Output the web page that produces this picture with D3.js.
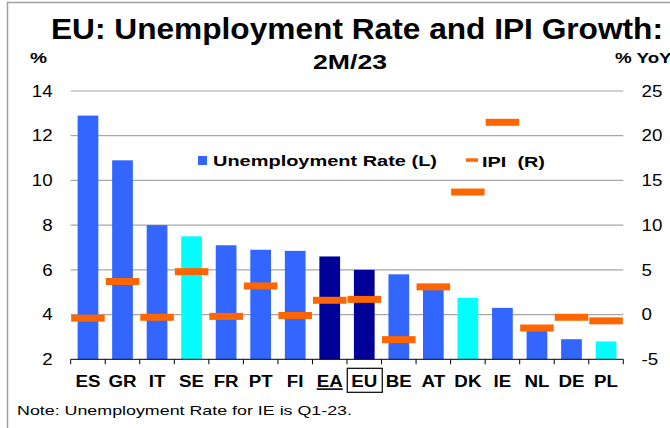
<!DOCTYPE html>
<html>
<head>
<meta charset="utf-8">
<script src="https://cdn.jsdelivr.net/npm/d3@7"></script>
<style>
  body { margin: 0; background: #fff; }
  svg { display: block; font-family: "Liberation Sans", Arial, sans-serif; }
</style>
</head>
<body>
<svg id="chart" width="670" height="428"></svg>
<script>
// --- data ---
const countries = ["ES", "GR", "IT", "SE", "FR", "PT", "FI", "EA", "EU", "BE", "AT", "DK", "IE", "NL", "DE", "PL"];
const unemployment = [12.9, 10.9, 8.0, 7.5, 7.1, 6.9, 6.85, 6.6, 6.0, 5.8, 5.1, 4.75, 4.3, 3.5, 2.9, 2.8];
const ipi = [-0.4, 3.7, -0.3, 4.8, -0.2, 3.2, -0.1, 1.6, 1.7, -2.8, 3.1, 13.7, 21.5, -1.5, -0.3, -0.7];
const barGroup = ["c", "c", "c", "n", "c", "c", "c", "a", "a", "c", "c", "n", "c", "c", "c", "n"];
const leftTicks = [2, 4, 6, 8, 10, 12, 14];
const rightTicks = [-5, 0, 5, 10, 15, 20, 25];

const colors = { c: "#3366ff", n: "#00ffff", a: "#000099" };
const orange = "#ff6600";

const svg = d3.select("#chart");
const plotL = 70.7, plotR = 623.3, plotT = 91, plotB = 359.3;

// the original text is drawn a bit wide, stretch it sideways
function widen(sel, factor) {
  sel.each(function () {
    const w = this.getComputedTextLength();
    d3.select(this)
      .attr("textLength", w * factor)
      .attr("lengthAdjust", "spacingAndGlyphs");
  });
  return sel;
}

// frame
svg.append("path")
  .attr("d", "M7.5,428 V2.5 H670")
  .attr("fill", "none")
  .attr("stroke", "#a0a0a0")
  .attr("stroke-width", 1.5);

// scales
const x = d3.scaleBand().domain(countries).range([plotL, plotR]).paddingInner(0.4).paddingOuter(0.2);
const xFull = d3.scaleBand().domain(countries).range([plotL, plotR]);
const yL = d3.scaleLinear().domain([2, 14]).range([plotB, plotT]);
const yR = d3.scaleLinear().domain([-5, 25]).range([plotB, plotT]);

// gridlines
svg.append("g")
  .selectAll("line")
  .data(leftTicks.slice(1))
  .enter()
  .append("line")
  .attr("x1", plotL)
  .attr("x2", plotR)
  .attr("y1", (d) => yL(d))
  .attr("y2", (d) => yL(d))
  .attr("stroke", "#a6a6a6")
  .attr("stroke-width", 1.2);

// bars
svg.append("g")
  .selectAll("rect")
  .data(countries)
  .enter()
  .append("rect")
  .attr("x", (d) => x(d))
  .attr("width", x.bandwidth())
  .attr("y", (d, i) => yL(unemployment[i]))
  .attr("height", (d, i) => plotB - yL(unemployment[i]))
  .attr("fill", (d, i) => colors[barGroup[i]]);

// IPI markers
svg.append("g")
  .selectAll("rect")
  .data(countries)
  .enter()
  .append("rect")
  .attr("x", (d) => xFull(d) + 0.5)
  .attr("width", xFull.bandwidth() - 1)
  .attr("y", (d, i) => yR(ipi[i]) - 3.5)
  .attr("height", 7)
  .attr("fill", orange);

// x axis
const xAxis = svg.append("g")
  .attr("transform", "translate(0," + plotB + ")");
xAxis.append("line")
  .attr("x1", plotL).attr("x2", plotR)
  .attr("stroke", "#000").attr("stroke-width", 1);
xAxis.selectAll("line.tick")
  .data(countries.concat(["_end"]))
  .enter()
  .append("line")
  .attr("class", "tick")
  .attr("x1", (d, i) => plotL + i * xFull.bandwidth())
  .attr("x2", (d, i) => plotL + i * xFull.bandwidth())
  .attr("y1", 0).attr("y2", 5)
  .attr("stroke", "#000");
const xLabels = xAxis.selectAll("text")
  .data(countries)
  .enter()
  .append("text")
  .attr("x", (d) => xFull(d) + xFull.bandwidth() / 2)
  .attr("y", 28)
  .attr("text-anchor", "middle")
  .style("font-size", "16px")
  .style("font-weight", "bold")
  .text((d) => d);
widen(xLabels, 1.17);
xLabels.filter((d) => d === "EA").style("text-decoration", "underline");

// box round EU
const euX = xFull("EU") + xFull.bandwidth() / 2;
xAxis.append("rect")
  .attr("x", euX - 17)
  .attr("y", 9)
  .attr("width", 35)
  .attr("height", 24)
  .attr("fill", "none")
  .attr("stroke", "#000")
  .attr("stroke-width", 1.2);

// left axis labels
widen(svg.append("g")
  .selectAll("text")
  .data(leftTicks)
  .enter()
  .append("text")
  .attr("x", 52.7)
  .attr("y", (d) => yL(d) + 5.7)
  .attr("text-anchor", "end")
  .style("font-size", "16px")
  .text((d) => d), 1.17);

// right axis labels
widen(svg.append("g")
  .selectAll("text")
  .data(rightTicks)
  .enter()
  .append("text")
  .attr("x", 641.5)
  .attr("y", (d) => yR(d) + 5.7)
  .style("font-size", "16px")
  .text((d) => d), 1.17);

// titles
svg.append("text")
  .attr("x", 357)
  .attr("y", 39)
  .attr("text-anchor", "middle")
  .attr("textLength", 612)
  .attr("lengthAdjust", "spacingAndGlyphs")
  .style("font-size", "29px")
  .style("font-weight", "bold")
  .text("EU: Unemployment Rate and IPI Growth:");
svg.append("text")
  .attr("x", 350)
  .attr("y", 69)
  .attr("text-anchor", "middle")
  .attr("textLength", 74)
  .attr("lengthAdjust", "spacingAndGlyphs")
  .style("font-size", "21px")
  .style("font-weight", "bold")
  .text("2M/23");
svg.append("text")
  .attr("x", 30)
  .attr("y", 63)
  .attr("textLength", 17)
  .attr("lengthAdjust", "spacingAndGlyphs")
  .style("font-size", "15px")
  .style("font-weight", "bold")
  .text("%");
widen(svg.append("text")
  .attr("x", 615)
  .attr("y", 63)
  .style("font-size", "15px")
  .style("font-weight", "bold")
  .text("% YoY"), 1.25);

// legend
const legend = svg.append("g");
legend.append("rect")
  .attr("x", 198).attr("y", 156).attr("width", 9).attr("height", 9)
  .attr("fill", colors.c);
legend.append("text")
  .attr("x", 213).attr("y", 166)
  .attr("textLength", 224)
  .attr("lengthAdjust", "spacingAndGlyphs")
  .style("font-size", "15px").style("font-weight", "bold")
  .text("Unemployment Rate (L)");
legend.append("rect")
  .attr("x", 466).attr("y", 158.3).attr("width", 12).attr("height", 3.5)
  .attr("fill", orange);
legend.append("text")
  .attr("x", 482).attr("y", 166.5)
  .attr("textLength", 63)
  .attr("lengthAdjust", "spacingAndGlyphs")
  .style("font-size", "15px").style("font-weight", "bold")
  .style("white-space", "pre")
  .text("IPI  (R)");

// note
svg.append("text")
  .attr("x", 17)
  .attr("y", 414.5)
  .attr("textLength", 335)
  .attr("lengthAdjust", "spacingAndGlyphs")
  .style("font-size", "13px")
  .text("Note: Unemployment Rate for IE is Q1-23.");
</script>
</body>
</html>
